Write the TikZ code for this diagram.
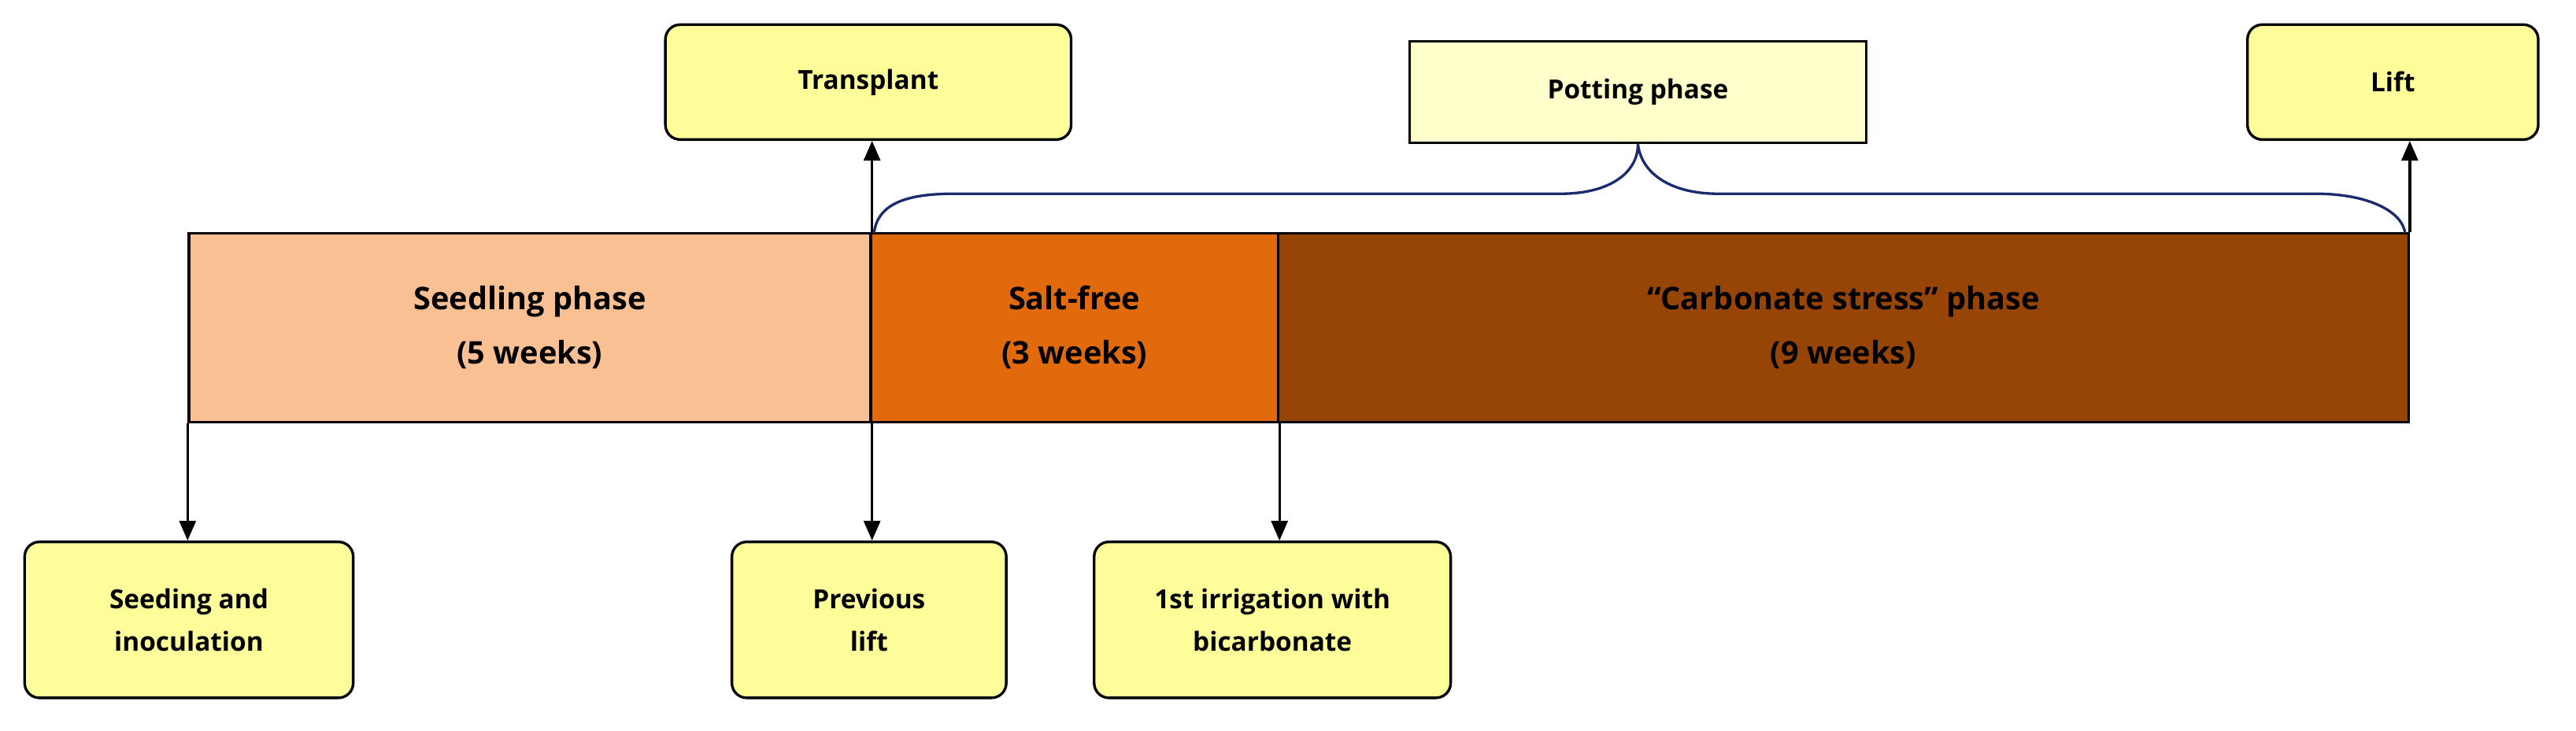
\documentclass[tikz,border=0pt]{standalone}
\usepackage{fontspec}
\setmainfont{Open Sans}
\usetikzlibrary{arrows.meta}
\definecolor{seed}{HTML}{F8C093}
\definecolor{salt}{HTML}{E06A0C}
\definecolor{carb}{HTML}{964506}
\definecolor{yel}{HTML}{FDFD99}
\definecolor{pale}{HTML}{FFFFCC}
\definecolor{navy}{HTML}{1C2A6E}
\begin{document}
\begin{tikzpicture}[x=1pt,y=-1pt,
 ev/.style={draw=black,line width=1.6pt,fill=yel,rounded corners=9pt,align=center,font=\bfseries\fontsize{16}{26}\selectfont,inner sep=0pt},
 ph/.style={draw=black,line width=1.6pt,align=center,font=\bfseries\fontsize{19}{33}\selectfont,inner sep=0pt},
 arr/.style={line width=1.6pt,-{Triangle[length=12pt,width=10pt]}}]
\useasboundingbox (0,0) rectangle (1568,445);
\node[ph,fill=seed,minimum width=415pt,minimum height=115pt] (s) at (322.5,199.5) {Seedling phase\\(5 weeks)};
\node[ph,fill=salt,minimum width=248pt,minimum height=115pt] (f) at (654,199.5) {Salt-free\\(3 weeks)};
\node[ph,fill=carb,minimum width=688pt,minimum height=115pt] (c) at (1122,199.5) {“Carbonate stress” phase\\(9 weeks)};
\node[ev,minimum width=247pt,minimum height=70pt] (t) at (528.5,50) {Transplant};
\node[ev,draw,rounded corners=0pt,fill=pale,minimum width=278pt,minimum height=62pt] (p) at (997,56) {Potting phase};
\node[ev,minimum width=177pt,minimum height=70pt] (l) at (1456.5,50) {Lift};
\node[ev,minimum width=200pt,minimum height=95pt] (a) at (115,377.5) {Seeding and\\inoculation};
\node[ev,minimum width=167pt,minimum height=95pt] (b) at (529,377.5) {Previous\\lift};
\node[ev,minimum width=217pt,minimum height=95pt] (d) at (774.5,377.5) {1st irrigation with\\bicarbonate};
\draw[arr] (s.south west) -- (a.north -| s.south west);
\draw[arr] (s.south east) -- (b.north -| s.south east);
\draw[arr] (f.south east) -- (d.north -| f.south east);
\draw[arr] (s.north east) -- (t.south -| s.north east);
\draw[arr] (c.north east) -- (l.south -| c.north east);
\coordinate (bl) at (532,142);
\coordinate (br) at (1464,142);
\draw[navy,line width=1.6pt] (bl) .. controls (534,125) and (550,118) .. (580,118) -- (950,118)
  .. controls (980,118) and (997,105) .. (p.south)
  .. controls (999,105) and (1016,118) .. (1046,118) -- (1410,118)
  .. controls (1440,118) and (1462,128) .. (br);
\end{tikzpicture}
\end{document}
